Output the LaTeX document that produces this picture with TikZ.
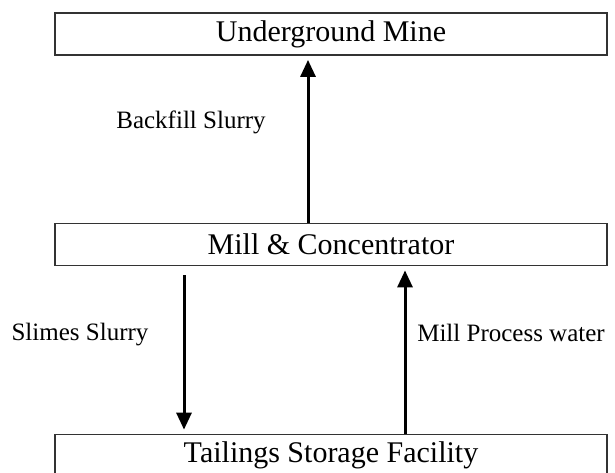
\documentclass[tikz,border=0pt]{standalone}
\usepackage{fontspec}
\setmainfont{Liberation Serif}
\usetikzlibrary{arrows.meta}

\tikzset{
  stage/.style={draw=black!80, line width=1.8pt, minimum width=552pt, minimum height=42pt, inner sep=0pt, font=\fontsize{30}{36}\selectfont},
  stream/.style={font=\fontsize{25}{30}\selectfont},
  flow/.style={line width=3pt, -{Triangle[width=15pt,length=17pt]}}
}

\begin{document}
\begin{tikzpicture}[x=1pt,y=-1pt]
\clip (0,0) rectangle (615,472);

\node[stage] (mine) at (331,34) {Underground Mine};
\node[stage] (mill) at (331,244.5) {Mill \& Concentrator};
\node[stage] (tsf) at (331,455.5) {Tailings Storage Facility};

\node[stream] (backfill) at (191,122) {Backfill Slurry};
\node[stream] (slimes) at (80,335) {Slimes Slurry};
\node[stream] (water) at (511,333) {Mill Process water};

\draw[flow, shorten >=4pt] ([xshift=-23pt]mill.north) -- ([xshift=-23pt]mine.south);
\draw[flow, shorten <=9pt, shorten >=4pt] ([xshift=-147pt]mill.south) -- ([xshift=-147pt]tsf.north);
\draw[flow, shorten >=4pt] ([xshift=74pt]tsf.north) -- ([xshift=74pt]mill.south);
\end{tikzpicture}
\end{document}
